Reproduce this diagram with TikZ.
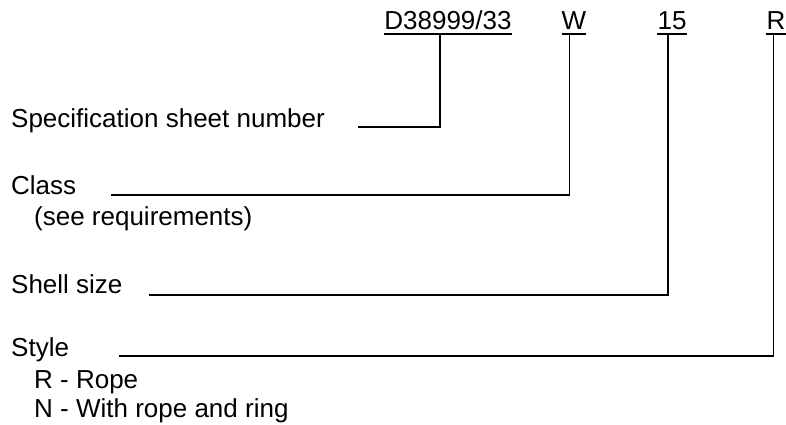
\documentclass[tikz,border=0pt]{standalone}
\usepackage{fontspec}
\setmainfont{Liberation Sans}
\usetikzlibrary{positioning}

\begin{document}
\begin{tikzpicture}[x=1pt,y=-1pt,
    every node/.style={inner sep=0pt,font=\fontsize{26}{30}\selectfont},
    code/.style={anchor=south,inner ysep=4pt,text depth=0pt},
    lbl/.style={anchor=base west},
    lead/.style={line width=1.8pt}]
\useasboundingbox (0,0) rectangle (786,425);
% part number fields
\node[code] (spec) at (448,34) {D38999/33};
\node[code] (cls) at (574,34) {W};
\node[code] (size) at (672,34) {15};
\node[code] (sty) at (776,34) {R};
% descriptions
\node[lbl] (specl) at (11,127) {Specification sheet number};
\node[lbl] (clsl) at (11,194) {Class};
\node[lbl] (req) at (34,225) {(see requirements)};
\node[lbl] (sizel) at (11,293) {Shell size};
\node[lbl] (styl) at (11,356) {Style};
\node[lbl] (rope) at (34,388) {R - Rope};
\node[lbl] (ring) at (34,417) {N - With rope and ring};
% free ends of the leaders
\coordinate (specend) at (358,127);
\coordinate (clsend) at (111,195);
\coordinate (sizeend) at (149,295);
\coordinate (styend) at (119,356);
% underlines
\foreach \f in {spec,cls,size,sty}
  \draw[line width=1.5pt] (\f.south west) -- (\f.south east);
% leaders
\draw[lead] (specend) -| ([xshift=-8pt]spec.south);
\draw[lead] (clsend) -| ([xshift=-4.5pt]cls.south);
\draw[lead] (sizeend) -| ([xshift=-4pt]size.south);
\draw[lead] (styend) -| ([xshift=-2.5pt]sty.south);
\end{tikzpicture}
\end{document}
